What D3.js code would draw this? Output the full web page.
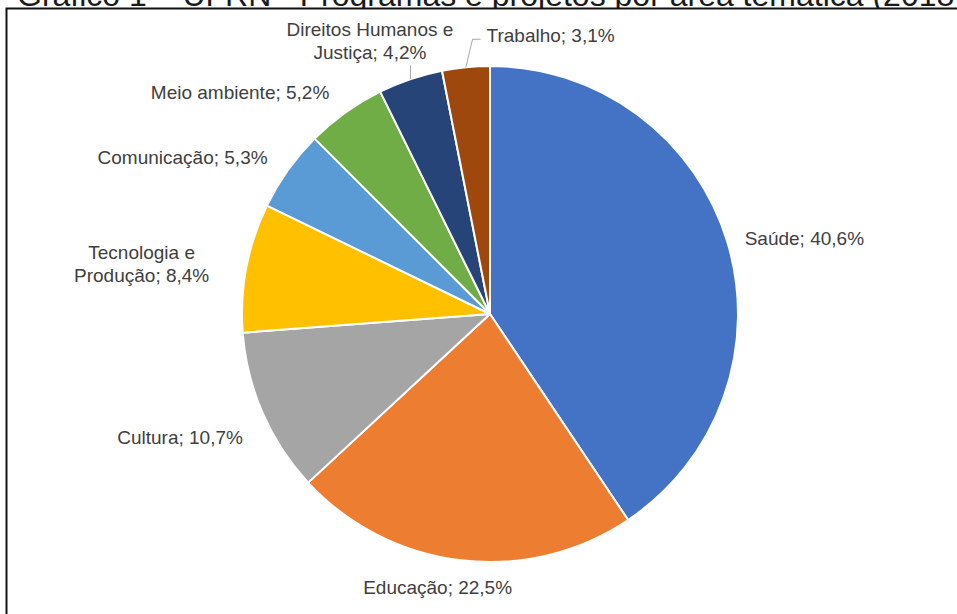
<!DOCTYPE html>
<html lang="pt">
<head>
    <meta charset="UTF-8">
    <title>Programas e projetos por área temática</title>
    <script src="https://cdn.jsdelivr.net/npm/d3@7"></script>
    <style>
        body {
            margin: 0;
            background: #fff;
        }
        text {
            font-family: "Liberation Sans", Arial, sans-serif;
        }
        .label {
            font-size: 19px;
            fill: #404040;
        }
        .title {
            font-size: 32px;
            fill: #1a1a1a;
        }
    </style>
</head>
<body>
<script>
    const width  = 957;
    const height = 614;

    // Áreas temáticas e percentuais
    const categories = ["Saúde", "Educação", "Cultura", "Tecnologia e Produção",
                        "Comunicação", "Meio ambiente", "Direitos Humanos e Justiça", "Trabalho"];
    const values     = [40.6, 22.5, 10.7, 8.4, 5.3, 5.2, 4.2, 3.1];
    // quebra de linha dos rótulos, como no original
    const labelLines = [["Saúde; 40,6%"],
                        ["Educação; 22,5%"],
                        ["Cultura; 10,7%"],
                        ["Tecnologia e", "Produção; 8,4%"],
                        ["Comunicação; 5,3%"],
                        ["Meio ambiente; 5,2%"],
                        ["Direitos Humanos e", "Justiça; 4,2%"],
                        ["Trabalho; 3,1%"]];
    const colors     = ["#4472C4", "#ED7D31", "#A5A5A5", "#FFC000",
                        "#5B9BD5", "#70AD47", "#264478", "#9E480E"];

    const cx = 490, cy = 314, radius = 248;

    // label layout: anchor and nudge from the point just outside the arc
    const labelLayout = {
        "Saúde":                      {anchor: "start",  dx: 4,   dy: 0},
        "Educação":                   {anchor: "middle", dx: -22, dy: 13},
        "Cultura":                    {anchor: "end",    dx: -7,  dy: 18},
        "Tecnologia e Produção":      {anchor: "middle", dx: -91, dy: -1},
        "Comunicação":                {anchor: "end",    dx: -9,  dy: -5},
        "Meio ambiente":              {anchor: "end",    dx: -8,  dy: -9},
        "Direitos Humanos e Justiça": {anchor: "middle", dx: -36, dy: -25, leader: "vertical"},
        "Trabalho":                   {anchor: "start",  dx: 22,  dy: -18, leader: "elbow"}
    };

    const data = categories.map((c, i) => ({name: c, value: values[i], lines: labelLines[i], color: colors[i]}));

    const svg = d3.select("body").append("svg")
        .attr("width", width)
        .attr("height", height);

    svg.append("rect")
        .attr("width", width).attr("height", height)
        .attr("fill", "#fff");

    // title, partly cut by the top of the picture
    svg.append("text")
        .attr("class", "title")
        .attr("x", 17)
        .attr("y", 6)
        .text("Gráfico 1 – UFRN - Programas e projetos por área temática (2018)");

    // chart area covers the title's descenders
    svg.append("rect")
        .attr("x", 6).attr("y", 8)
        .attr("width", width).attr("height", height)
        .attr("fill", "#fff");

    // chart frame (only left and top edges visible)
    svg.append("path")
        .attr("d", `M6.5,${height}V8.5H${width}`)
        .attr("fill", "none")
        .attr("stroke", "#111")
        .attr("stroke-width", 2);

    const pie = d3.pie()
        .value(d => d.value)
        .sort(null);

    const arc = d3.arc()
        .innerRadius(0)
        .outerRadius(radius);

    const arcs = pie(data);

    const g = svg.append("g")
        .attr("transform", `translate(${cx},${cy})`);

    g.selectAll("path.slice")
        .data(arcs)
        .join("path")
        .attr("class", "slice")
        .attr("d", arc)
        .attr("fill", d => d.data.color)
        .attr("stroke", "#fff")
        .attr("stroke-width", 2)
        .attr("stroke-linejoin", "round");

    const polar = (a, r) => [r * Math.sin(a), -r * Math.cos(a)];
    const lineH = 23;

    arcs.forEach(d => {
        const mid = (d.startAngle + d.endAngle) / 2;
        const lay = labelLayout[d.data.name];
        const [bx, by] = polar(mid, radius + 14);
        const x = bx + lay.dx;
        const y = by + lay.dy;   // vertical centre of the label block
        const n = d.data.lines.length;

        const t = g.append("text")
            .attr("class", "label")
            .attr("text-anchor", lay.anchor)
            .attr("dominant-baseline", "central");

        d.data.lines.forEach((s, k) => {
            t.append("tspan")
                .attr("x", x)
                .attr("y", y + (k - (n - 1) / 2) * lineH)
                .text(s);
        });

        // leader lines for the small slices
        const [ax, ay] = polar(mid, radius);
        if (lay.leader === "vertical") {
            const top = y + (n - 1) / 2 * lineH + 13;
            g.append("path")
                .attr("d", d3.line()([[ax, ay], [ax, top]]))
                .attr("fill", "none")
                .attr("stroke", "#A6A6A6")
                .attr("stroke-width", 1);
        } else if (lay.leader === "elbow") {
            g.append("path")
                .attr("d", d3.line()([[ax, ay], [x - 14, y + 4], [x - 6, y + 4]]))
                .attr("fill", "none")
                .attr("stroke", "#A6A6A6")
                .attr("stroke-width", 1);
        }
    });
</script>
</body>
</html>
